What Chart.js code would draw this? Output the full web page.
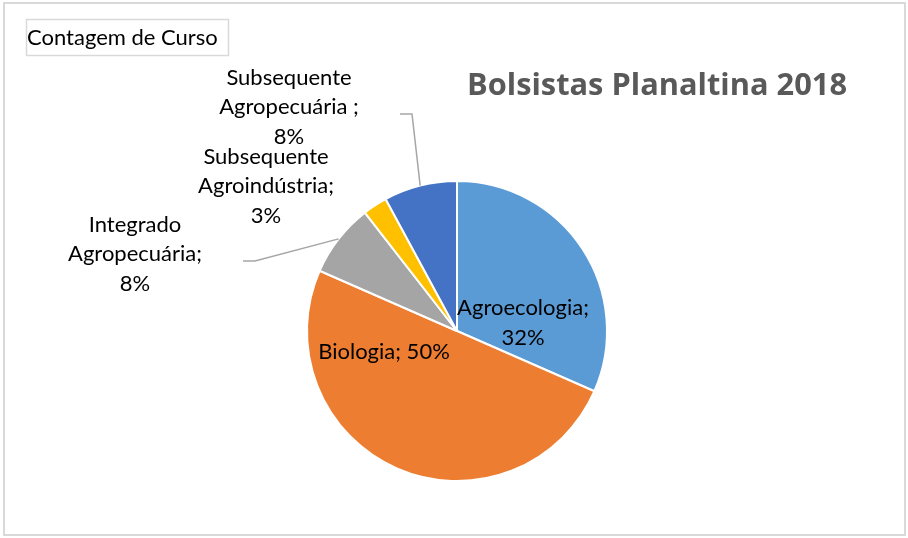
<!DOCTYPE html>
<html>
<head>
<meta charset="utf-8">
<script src="https://cdn.jsdelivr.net/npm/chart.js@4.4.0/dist/chart.umd.min.js"></script>
<style>
  body { margin: 0; background: #fff; }
  #wrap { width: 908px; height: 538px; }
</style>
</head>
<body>
<div id="wrap"><canvas id="myChart" width="908" height="538"></canvas></div>
<script>
// data (percentages come out as 32/50/8/3/8)
const categories = ['Agroecologia', 'Biologia', 'Integrado Agropecuária', 'Subsequente Agroindústria', 'Subsequente Agropecuária'];
const counts = [12, 19, 3, 1, 3];
const sliceColors = ['#5B9BD5', '#ED7D31', '#A5A5A5', '#FFC000', '#4472C4'];
const labelTexts = ['Agroecologia;\n{p}', 'Biologia; {p}', 'Integrado\nAgropecuária;\n{p}', 'Subsequente\nAgroindústria;\n{p}', 'Subsequente\nAgropecuária ;\n{p}'];

// label block centres relative to the pie centre, plus optional leader start
const labelPlaces = [
    { dx: 66, dy: -8 },
    { dx: -73, dy: 21 },
    { dx: -322, dy: -77, leader: { dx: 108, dy: 7 } },
    { dx: -191, dy: -145 },
    { dx: -168, dy: -224, leader: { dx: 111, dy: 7 } }
];

const FONT = 'Lato, "Noto Sans", sans-serif';
const TITLE = 'Bolsistas Planaltina 2018';

const frame = {
    id: 'frame',
    beforeDraw(chart) {
        const c = chart.ctx;
        c.save();
        c.fillStyle = '#fff';
        c.fillRect(0, 0, chart.width, chart.height);
        c.strokeStyle = '#D9D9D9';
        c.lineWidth = 2;
        c.strokeRect(4, 3, 901, 532);
        // field button
        c.lineWidth = 1.5;
        c.strokeRect(26.5, 19.5, 202, 36);
        c.fillStyle = '#000';
        c.font = '22px ' + FONT;
        c.textBaseline = 'middle';
        c.fillText('Contagem de Curso', 27, 38);
        // title, stretched to the width of the original
        c.fillStyle = '#595959';
        c.font = 'bold 30px "Open Sans", sans-serif';
        const w = c.measureText(TITLE).width;
        c.translate(467, 86);
        c.scale(380 / w, 1);
        c.textAlign = 'left';
        c.fillText(TITLE, 0, 0);
        c.restore();
    }
};

const pieLabels = {
    id: 'pieLabels',
    afterDatasetsDraw(chart) {
        const c = chart.ctx;
        const meta = chart.getDatasetMeta(0);
        const data = chart.data.datasets[0].data;
        const total = data.reduce((a, b) => a + b, 0);
        c.save();
        c.font = '22px ' + FONT;
        c.textAlign = 'center';
        c.textBaseline = 'middle';
        meta.data.forEach(function(arc, i) {
            const p = arc.getProps(['x', 'y', 'startAngle', 'endAngle', 'outerRadius'], true);
            const place = labelPlaces[i];
            const pct = Math.round(data[i] / total * 100) + '%';
            const lines = labelTexts[i].replace('{p}', pct).split('\n');
            const cx = p.x + place.dx, cy = p.y + place.dy;
            const lh = 29.5;
            if (place.leader) {
                const mid = (p.startAngle + p.endAngle) / 2;
                const ex = p.x + Math.cos(mid) * p.outerRadius;
                const ey = p.y + Math.sin(mid) * p.outerRadius;
                const sx = cx + place.leader.dx, sy = cy + place.leader.dy;
                c.strokeStyle = '#A6A6A6';
                c.lineWidth = 1.5;
                c.beginPath();
                c.moveTo(sx, sy);
                c.lineTo(sx + 12, sy);
                c.lineTo(ex, ey);
                c.stroke();
            }
            c.fillStyle = '#000';
            lines.forEach(function(t, k) {
                c.fillText(t, cx, cy + (k - (lines.length - 1) / 2) * lh);
            });
        });
        c.restore();
    }
};

new Chart(document.getElementById('myChart'), {
    type: 'pie',
    data: {
        labels: categories,
        datasets: [{
            data: counts,
            backgroundColor: sliceColors,
            borderColor: '#fff',
            borderWidth: 2
        }]
    },
    plugins: [frame, pieLabels],
    options: {
        responsive: false,
        animation: false,
        radius: 150,
        layout: { padding: { left: 307, right: 301, top: 181, bottom: 57 } },
        plugins: {
            legend: { display: false },
            tooltip: { enabled: false }
        }
    }
});
</script>
</body>
</html>
